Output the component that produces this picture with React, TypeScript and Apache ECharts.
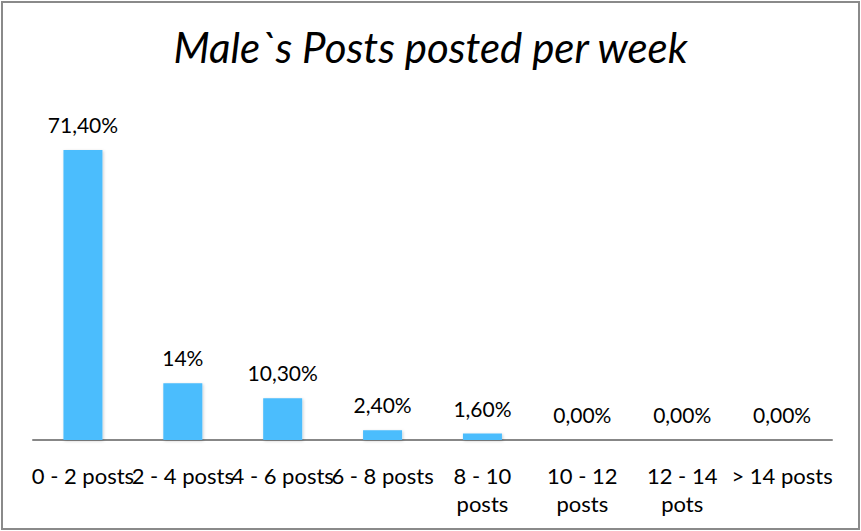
import React, { useEffect, useRef } from "react";
import * as echarts from "echarts";

const categories = ["0 - 2 posts", "2 - 4 posts", "4 - 6 posts", "6 - 8 posts", "8 - 10 posts", "10 - 12 posts", "12 - 14 pots", "> 14 posts"];
const values = [71.4, 14, 10.3, 2.4, 1.6, 0, 0, 0];
const valueLabels = ["71,40%", "14%", "10,30%", "2,40%", "1,60%", "0,00%", "0,00%", "0,00%"];
const titleText = "Male`s Posts posted per week";

export default function App() {
  const ref = useRef<HTMLDivElement>(null);
  useEffect(() => {
    if (!ref.current) return;
    const chart = echarts.init(ref.current, undefined, { renderer: "svg" });
    const font = "Lato";
    chart.setOption({
      animation: false,
      backgroundColor: "#ffffff",
      title: {
        text: titleText,
        left: "center",
        top: 21,
        textStyle: { fontFamily: font, fontStyle: "italic", fontWeight: "normal", fontSize: 42, color: "#000" },
      },
      graphic: [
        {
          type: "rect",
          shape: { x: 2, y: 2, width: 857, height: 527 },
          style: { fill: "none", stroke: "#8a8a8a", lineWidth: 2 },
          silent: true,
        },
      ],
      grid: { left: 33, right: 29, top: 115, bottom: 91, containLabel: false },
      xAxis: {
        type: "category",
        data: categories,
        axisLine: { lineStyle: { color: "#878787", width: 2 } },
        axisTick: { show: false },
        axisLabel: {
          interval: 0,
          margin: 21,
          lineHeight: 28,
          fontFamily: font,
          fontSize: 22,
          color: "#000",
          formatter: (v: string) => (v.length > 11 ? v.replace(/ (\S+)$/, "\n$1") : v),
        },
      },
      yAxis: {
        type: "value",
        min: 0,
        max: 80,
        show: false,
        splitLine: { show: false },
      },
      series: [
        {
          type: "bar",
          data: values,
          barWidth: 39,
          itemStyle: { color: "#4BBDFD", shadowColor: "rgba(0,0,0,0.2)", shadowBlur: 3, shadowOffsetX: 1, shadowOffsetY: 1 },
          label: {
            show: true,
            position: "top",
            distance: 15,
            fontFamily: font,
            fontSize: 21,
            color: "#000",
            formatter: (p: any) => valueLabels[p.dataIndex],
          },
        },
      ],
    });
    return () => chart.dispose();
  }, []);
  return (
    <div style={{ position: "fixed", left: 0, top: 0, width: 861, height: 531 }}>
      <div ref={ref} style={{ width: 861, height: 531 }} />
    </div>
  );
}
